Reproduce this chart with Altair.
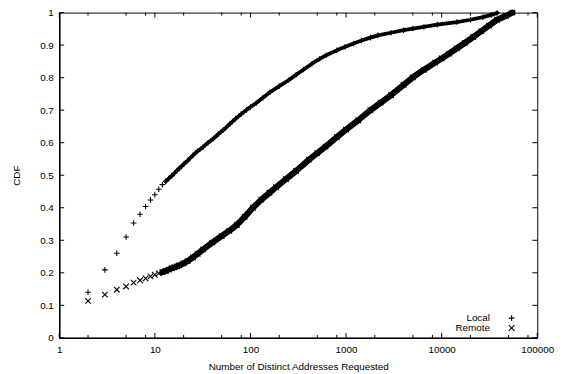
import altair as alt
import pandas as pd

series_names = ["Local", "Remote"]

local_x = [2, 3, 4, 5, 6, 7, 8, 9, 10, 11, 12, 13, 14, 15, 16, 17, 18, 19, 20, 22, 25, 28, 32, 36, 41, 46, 52, 61, 70, 80, 91,
           100, 115, 135, 160, 200, 250, 300, 360, 440, 530, 620, 800, 980, 1200, 1450, 1800, 2150, 2950, 4000, 5000, 6500,
           9000, 14400, 20000, 27000, 33000, 38000]
local_y = [0.140, 0.209, 0.260, 0.310, 0.353, 0.380, 0.404, 0.424, 0.440, 0.457, 0.471, 0.481, 0.490, 0.498, 0.506, 0.514,
           0.521, 0.527, 0.534, 0.545, 0.561, 0.574, 0.587, 0.600, 0.613, 0.626, 0.639, 0.658, 0.674, 0.688, 0.701,
           0.710, 0.722, 0.738, 0.755, 0.774, 0.792, 0.809, 0.825, 0.843, 0.858, 0.869, 0.884, 0.895, 0.905, 0.914, 0.923,
           0.930, 0.938, 0.946, 0.951, 0.956, 0.963, 0.971, 0.978, 0.986, 0.993, 0.999]

remote_x = [2, 3, 4, 5, 6, 7, 8, 9, 10, 11, 12, 13, 14, 15, 16, 17, 18, 20, 22, 25, 28, 32, 40, 50, 60, 72, 87, 106, 130,
            158, 185, 235, 300, 410, 500, 610, 800, 1000, 1340, 1800, 2300, 2950, 4000, 5000, 6500, 8500, 10000, 12000,
            14400, 17500, 21400, 26000, 31400, 38000, 47000, 55000]
remote_y = [0.1135, 0.133, 0.148, 0.158, 0.170, 0.177, 0.183, 0.189, 0.194, 0.198, 0.202, 0.206, 0.210, 0.214, 0.217,
            0.220, 0.223, 0.229, 0.236, 0.247, 0.258, 0.272, 0.293, 0.313, 0.329, 0.347, 0.372, 0.400, 0.425, 0.446,
            0.463, 0.488, 0.513, 0.548, 0.568, 0.588, 0.617, 0.640, 0.669, 0.700, 0.723, 0.746, 0.778, 0.801, 0.824,
            0.846, 0.859, 0.874, 0.890, 0.907, 0.925, 0.943, 0.960, 0.978, 0.990, 1.0]

x_major = [1, 10, 100, 1000, 10000, 100000]
x_minor = [2, 5, 8, 20, 50, 80, 200, 500, 800, 2000, 5000, 8000, 20000, 50000, 80000]
y_ticks = [0, 0.1, 0.2, 0.3, 0.4, 0.5, 0.6, 0.7, 0.8, 0.9, 1]

W, H = 485, 330
FONT = "Liberation Sans"

df = pd.concat([
    pd.DataFrame({"x": local_x, "y": local_y, "series": series_names[0]}),
    pd.DataFrame({"x": remote_x, "y": remote_y, "series": series_names[1]}),
], ignore_index=True)

plus_path = "M-1,0H1M0,-1V1"
cross_path = "M-1,-1L1,1M1,-1L-1,1"

xscale = alt.Scale(type="log", domain=[1, 100000], nice=False)
yscale = alt.Scale(domain=[0, 1], nice=False)

xaxis = alt.Axis(values=x_major, format="d", ticks=False, grid=False, domain=True,
                 domainColor="black", domainWidth=1.5,
                 labelFont=FONT, labelFontSize=10, labelColor="black", labelPadding=7,
                 title="Number of Distinct Addresses Requested", titleFont=FONT,
                 titleFontSize=10, titleFontWeight="normal", titleColor="black",
                 titlePadding=7, labelFlush=False)
yaxis = alt.Axis(values=y_ticks, format="~g", ticks=False, grid=False, domain=True,
                 domainColor="black", domainWidth=1.5,
                 labelFont=FONT, labelFontSize=10, labelColor="black", labelPadding=6,
                 title="CDF", titleFont=FONT, titleFontSize=10, titleFontWeight="normal",
                 titleColor="black", titlePadding=18, labelFlush=False)

base = alt.Chart(df)

lines = base.mark_line(color="black", strokeJoin="round", strokeCap="round").encode(
    x=alt.X("x:Q", scale=xscale, axis=xaxis),
    y=alt.Y("y:Q", scale=yscale, axis=yaxis),
    detail="series:N",
    strokeWidth=alt.StrokeWidth("series:N", scale=alt.Scale(domain=series_names, range=[3.8, 6.2]), legend=None),
).transform_filter(
    "(datum.series == 'Local' && datum.x >= 13) || (datum.series == 'Remote' && datum.x >= 12)"
)

points = base.mark_point(filled=False, color="black", strokeWidth=1.1, size=32, opacity=1).encode(
    x=alt.X("x:Q", scale=xscale, axis=xaxis),
    y=alt.Y("y:Q", scale=yscale, axis=yaxis),
    shape=alt.Shape("series:N", scale=alt.Scale(domain=series_names, range=[plus_path, cross_path]), legend=None),
)

xmaj_df = pd.DataFrame({"x": x_major})
xmin_df = pd.DataFrame({"x": x_minor})
y_df = pd.DataFrame({"y": y_ticks})

def xtick(data, y0, y1):
    return alt.Chart(data).mark_rule(color="black", strokeWidth=1).encode(
        x=alt.X("x:Q", scale=xscale, axis=xaxis), y=alt.value(y0), y2=alt.value(y1))

def ytick(x0, x1):
    return alt.Chart(y_df).mark_rule(color="black", strokeWidth=1).encode(
        y=alt.Y("y:Q", scale=yscale, axis=yaxis), x=alt.value(x0), x2=alt.value(x1))

ticks = [
    xtick(xmaj_df, H, H - 5), xtick(xmaj_df, 0, 5),
    xtick(xmin_df, H, H - 3), xtick(xmin_df, 0, 3),
    ytick(0, 5), ytick(W, W - 5),
]

leg_local_text = alt.Chart(pd.DataFrame({"s": [series_names[0]]})).mark_text(
    align="right", baseline="middle", font=FONT, fontSize=10, color="black").encode(
    text="s:N", x=alt.value(437), y=alt.value(H - 20))
leg_remote_text = alt.Chart(pd.DataFrame({"s": [series_names[1]]})).mark_text(
    align="right", baseline="middle", font=FONT, fontSize=10, color="black").encode(
    text="s:N", x=alt.value(437), y=alt.value(H - 10))
leg_local_sym = alt.Chart(pd.DataFrame({"s": [series_names[0]]})).mark_point(
    filled=False, color="black", strokeWidth=1.1, size=32, opacity=1, shape=plus_path).encode(
    x=alt.value(459), y=alt.value(H - 20))
leg_remote_sym = alt.Chart(pd.DataFrame({"s": [series_names[1]]})).mark_point(
    filled=False, color="black", strokeWidth=1.1, size=32, opacity=1, shape=cross_path).encode(
    x=alt.value(459), y=alt.value(H - 10))

chart = alt.layer(
    lines, points, *ticks, leg_local_text, leg_remote_text, leg_local_sym, leg_remote_sym
).properties(
    width=W, height=H,
    autosize=alt.AutoSizeParams(type="none"),
    padding={"left": 52, "top": 2, "right": 18, "bottom": 34},
    background="white",
).configure_view(stroke="black", strokeWidth=1)

chart.save("out.html", embed_options={"renderer": "svg", "actions": False})
